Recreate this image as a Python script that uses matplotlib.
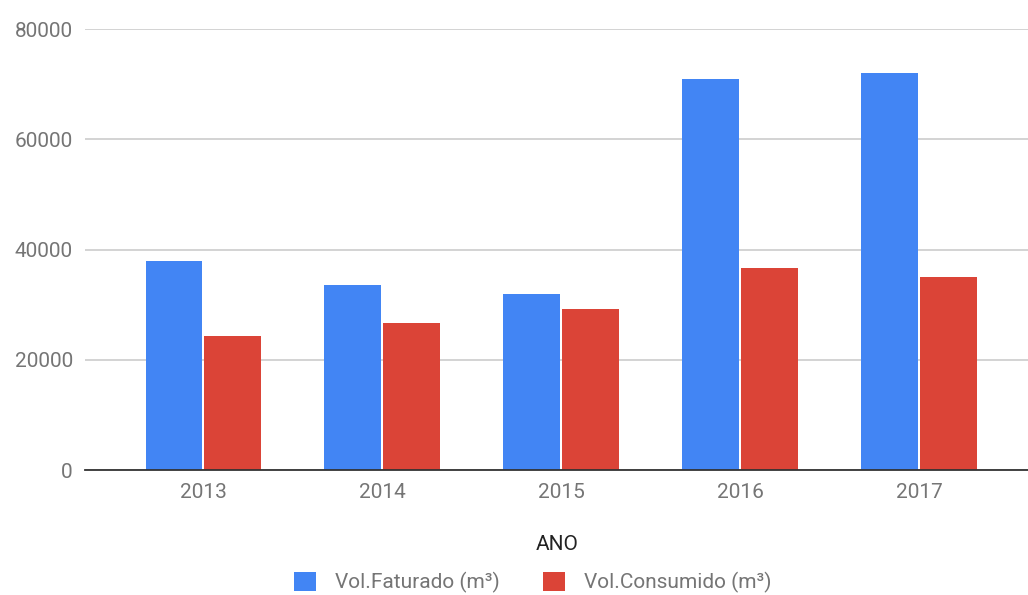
import matplotlib.pyplot as plt
import numpy as np

plt.rcParams["font.family"] = ["Roboto", "DejaVu Sans"]

anos = ["2013", "2014", "2015", "2016", "2017"]
vol_faturado = [38000, 33500, 32000, 71000, 72000]
vol_consumido = [24400, 26600, 29150, 36600, 35100]

fig = plt.figure(figsize=(10.28, 5.95), dpi=100)
ax = fig.add_axes([0.083, 0.21, 0.917, 0.741])

x = np.arange(len(anos))
ancho = 0.318
ax.bar(x - ancho / 2 - 0.005, vol_faturado, ancho, color="#4285F4", label="Vol.Faturado (m³)")
ax.bar(x + ancho / 2 + 0.005, vol_consumido, ancho, color="#DB4437", label="Vol.Consumido (m³)")

ax.set_xlim(-0.66, 4.61)
ax.set_ylim(0, 80000)
ax.set_yticks([0, 20000, 40000, 60000, 80000])
ax.set_xticks(x)
ax.set_xticklabels(anos)
ax.tick_params(axis="both", length=0, labelsize=15, colors="#757575")
ax.tick_params(axis="y", pad=9)
ax.tick_params(axis="x", pad=9)
ax.grid(axis="y", color="#cccccc", linewidth=1.2)
ax.set_axisbelow(True)
for s in ["top", "right", "left"]:
    ax.spines[s].set_visible(False)
ax.spines["bottom"].set_color("#333333")
ax.spines["bottom"].set_linewidth(1.3)

ax.set_xlabel("ANO", fontsize=15, color="#222222", labelpad=24)
ax.legend(loc="center", bbox_to_anchor=(0.518, 0.021), bbox_transform=fig.transFigure,
          ncol=2, frameon=False, fontsize=15, labelcolor="#757575",
          handlelength=1.05, handleheight=1.05, columnspacing=2.1, handletextpad=0.9)

plt.savefig("out.png", dpi=100)
